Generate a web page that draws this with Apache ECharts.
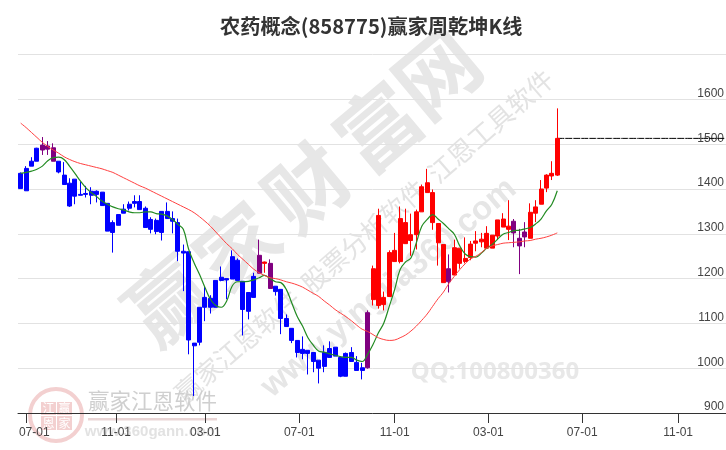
<!DOCTYPE html>
<html><head><meta charset="utf-8">
<style>html,body{margin:0;padding:0;background:#fff}#c{width:726px;height:450px}</style>
<script src="https://cdn.jsdelivr.net/npm/echarts@6/dist/echarts.min.js"></script>
</head><body><div id="c"></div>
<script>
const titleText = '农药概念(858775)赢家周乾坤K线';
const bodyTop = [1435,1446,1462,1491,1498,1496,1492,1462,1431,1413,1422,1388,1390,1395,1395,1393,1368,1325,1343,1355,1366,1372,1372,1357,1332,1330,1350,1350,1334,1325,1261,1260,1056,1136,1158,1156,1196,1203,1200,1249,1241,1194,1169,1205,1252,1237,1234,1183,1176,1111,1089,1062,1042,1040,1035,1018,1035,1044,1047,1024,1033,1035,1013,1001,1124,1222,1341,1158,1258,1263,1334,1325,1298,1349,1405,1414,1392,1323,1276,1222,1269,1268,1245,1277,1284,1288,1301,1297,1331,1333,1317,1328,1290,1304,1348,1360,1400,1431,1435,1513];
const bodyBottom = [1401,1396,1451,1462,1487,1489,1462,1438,1410,1362,1384,1386,1388,1386,1388,1363,1306,1303,1319,1346,1357,1368,1354,1314,1310,1305,1303,1334,1328,1261,1257,1063,1050,1058,1136,1136,1136,1196,1197,1199,1196,1131,1127,1158,1212,1234,1178,1171,1111,1093,1062,1035,1033,1033,1015,1000,1004,1024,1027,982,982,1015,995,995,1001,1153,1140,1142,1160,1238,1238,1278,1285,1298,1349,1392,1325,1280,1191,1193,1208,1234,1238,1247,1279,1282,1268,1268,1295,1315,1310,1302,1273,1293,1290,1346,1366,1402,1429,1431];
const highs = [1437,1451,1471,1492,1516,1507,1502,1462,1460,1424,1422,1417,1407,1404,1397,1393,1368,1330,1343,1366,1372,1386,1386,1361,1337,1334,1350,1370,1350,1334,1276,1260,1056,1136,1183,1163,1196,1227,1200,1263,1245,1194,1169,1213,1287,1238,1243,1183,1176,1120,1089,1062,1071,1040,1035,1018,1051,1060,1047,1024,1035,1047,1027,1012,1129,1229,1356,1171,1263,1302,1361,1356,1345,1354,1410,1445,1399,1323,1276,1254,1287,1268,1292,1284,1306,1302,1317,1297,1331,1346,1375,1333,1311,1326,1368,1375,1420,1433,1462,1580];
const lows = [1401,1396,1451,1462,1476,1476,1462,1435,1410,1360,1366,1386,1381,1366,1370,1363,1306,1258,1319,1346,1352,1359,1354,1314,1301,1299,1285,1334,1301,1239,1172,1031,938,1051,1105,1122,1136,1194,1154,1199,1196,1073,1109,1158,1212,1213,1178,1162,1076,1093,1056,1024,1020,986,991,966,991,1024,1027,980,982,1015,995,975,999,1140,1133,1129,1160,1238,1234,1278,1251,1265,1349,1392,1309,1229,1191,1169,1208,1222,1234,1241,1261,1270,1268,1268,1286,1315,1286,1270,1210,1270,1290,1326,1366,1393,1420,1429];
const purpleCandles = [4,5,6,44,46,64,79,91,92,93];
const redCandles = [45,65,66,67,68,69,70,71,72,73,74,75,76,77,78,80,81,82,83,84,85,86,87,88,89,90,94,95,96,97,98,99];
const maShort = [1435,1437,1440,1444,1451,1463,1470,1471,1466,1451,1435,1418,1403,1392,1383,1373,1366,1360,1356,1353,1349,1347,1347,1349,1349,1345,1344,1340,1332,1321,1310,1265,1235,1209,1180,1154,1140,1136,1150,1183,1193,1193,1194,1197,1202,1207,1200,1193,1191,1176,1146,1116,1094,1068,1051,1038,1036,1032,1029,1026,1024,1024,1018,1015,1031,1053,1079,1101,1138,1176,1220,1237,1246,1280,1317,1332,1343,1333,1323,1311,1299,1273,1255,1249,1248,1257,1268,1276,1288,1299,1303,1307,1308,1311,1314,1322,1333,1351,1366,1396];
const maLong = [1547,1537,1526,1515,1504,1495,1487,1480,1472,1466,1461,1457,1454,1451,1448,1445,1441,1437,1431,1425,1419,1413,1407,1402,1396,1390,1384,1378,1372,1366,1360,1354,1347,1338,1328,1317,1304,1291,1278,1267,1254,1243,1232,1221,1213,1207,1202,1200,1197,1193,1190,1186,1181,1174,1167,1160,1150,1141,1131,1123,1115,1106,1096,1087,1082,1075,1068,1064,1062,1063,1068,1074,1083,1094,1107,1121,1138,1155,1170,1189,1205,1220,1233,1244,1250,1258,1268,1273,1276,1279,1280,1281,1282,1284,1285,1288,1290,1293,1297,1302];
const tickLabels = ['07-01','11-01','03-01','07-01','11-01','03-01','07-01','11-01'];
const tickSlots = [1.03,17.6,34.07,51.4,69.0,86.3,103.6,121.3];
const slotCount = 131;
const yTicks = [900,1000,1100,1200,1300,1400,1500,1600];

const categories = Array.from({length: slotCount}, (_, i) => String(i));
const lastIdx = bodyTop.length - 1;
const candles = bodyTop.map((t, i) => {
  const red = redCandles.includes(i);
  const col = red ? '#ff0000' : purpleCandles.includes(i) ? '#800080' : '#0000ff';
  const val = red ? [bodyBottom[i], t, lows[i], highs[i]] : [t, bodyBottom[i], lows[i], highs[i]];
  return {value: val, itemStyle: {color: col, color0: col, borderColor: col, borderColor0: col, borderWidth: 1}};
});
const lastLine = categories.map((_, i) => i >= lastIdx ? bodyTop[lastIdx] : null);

const deg = Math.PI / 180;
const wm = (text, x, y, font, fill, rot) => ({type:'text', z:-1, x, y, rotation:(rot||0)*deg, silent:true,
  style:{text, font, fill, align:'center', verticalAlign:'middle'}});
const cjk = '"Noto Sans CJK SC"';
const stamp = '#f3d0d0';
const big = 'bold 82px '+cjk, bigFill = '#e7e7e7';
const graphics = [
  wm('赢', 168, 300, big, bigFill, 40),
  wm('家', 237, 247, big, bigFill, 40),
  wm('财', 307, 187, big, bigFill, 40),
  wm('富', 378, 127, big, bigFill, 40),
  wm('网', 437, 73, big, bigFill, 40),
  wm('赢家江恩软件  股票分析软件  江恩工具软件', 364, 236, '26px '+cjk, '#e3e3e3', 41),
  wm('www.yingjia360.com', 389, 288, 'bold 33px "Liberation Sans"', '#e6e6e6', 40),
  wm('QQ:100800360', 495, 372, 'bold 24px "Noto Sans"', '#e8e8e8', 0),
  wm('赢家江恩软件', 152.5, 401, '21.5px '+cjk, '#cfcfcf', 0),
  wm('www.360gann.com', 152, 432, 'bold 15px "Liberation Sans"', '#e2e2e2', 0),
  {type:'rect', z:-1, silent:true, shape:{x:88,y:418,width:129,height:2.5}, style:{fill:'#ead6d6'}},
  {type:'circle', z:-1, silent:true, shape:{cx:56,cy:415,r:26}, style:{fill:'none', stroke:stamp, lineWidth:4}},
  {type:'rect', z:-1, silent:true, shape:{x:41,y:402,width:15,height:13}, style:{fill:stamp}},
  {type:'rect', z:-1, silent:true, shape:{x:57,y:402,width:15,height:13}, style:{fill:stamp}},
  {type:'rect', z:-1, silent:true, shape:{x:41,y:416,width:15,height:14}, style:{fill:stamp}},
  {type:'rect', z:-1, silent:true, shape:{x:57,y:416,width:15,height:14}, style:{fill:stamp}},
  wm('江', 48.5, 408.5, '12px '+cjk, '#ffffff', 0),
  wm('赢', 64.5, 408.5, '12px '+cjk, '#ffffff', 0),
  wm('恩', 48.5, 423, '12px '+cjk, '#ffffff', 0),
  wm('家', 64.5, 423, '12px '+cjk, '#ffffff', 0)
];

const chart = echarts.init(document.getElementById('c'), null, {renderer:'canvas'});
chart.setOption({
  animation: false,
  backgroundColor: '#ffffff',
  title: {text: titleText, left: 215, top: 11, textStyle: {fontFamily: cjk, fontWeight: 'bold', fontSize: 20.2, color: '#333333'}},
  grid: {left: 18, width: 710, top: 54.6, height: 358.4, containLabel: false, outerBoundsMode: 'none'},
  xAxis: [
    {type:'category', data: categories, show:false, boundaryGap:true},
    {type:'value', min:-0.5, max:slotCount-0.5, position:'bottom', splitLine:{show:false},
     axisLine:{show:true, onZero:false, lineStyle:{color:'#333333', width:1}},
     axisTick:{show:true, length:10, inside:false, customValues:tickSlots, lineStyle:{color:'#333333', width:1}},
     axisLabel:{show:true, customValues:tickSlots, margin:14, fontFamily:'"Liberation Sans"', fontSize:12, color:'#444444',
       formatter:(v)=>{const i=tickSlots.indexOf(v); return i===0?'{first|'+tickLabels[i]+'}':tickLabels[i];},
       rich:{first:{padding:[0,0,0,16], fontFamily:'"Liberation Sans"', fontSize:12, color:'#444444'}}}}
  ],
  yAxis: {type:'value', min:900, max:1700, interval:100, position:'right',
    axisLine:{show:false}, axisTick:{show:false},
    splitLine:{show:true, lineStyle:{color:'#e2e2e2', width:1}},
    axisLabel:{inside:true, margin:4, verticalAlign:'bottom', fontFamily:'"Liberation Sans"', fontSize:12, color:'#444444',
      formatter:(v)=> yTicks.includes(v) ? String(v) : ''}},
  series: [
    {type:'candlestick', xAxisIndex:0, yAxisIndex:0, data:candles, barWidth:4.5, z:3},
    {type:'line', xAxisIndex:0, data:maShort, showSymbol:false, smooth:0.4, z:4, lineStyle:{color:'#228b22', width:1.2}},
    {type:'line', xAxisIndex:0, data:maLong, showSymbol:false, smooth:0.4, z:4, lineStyle:{color:'#ff4040', width:1}},
    {type:'line', xAxisIndex:0, data:lastLine, showSymbol:false, z:2, lineStyle:{color:'#000000', width:1, type:[7,1]}}
  ],
  graphic: graphics
});
</script></body></html>
